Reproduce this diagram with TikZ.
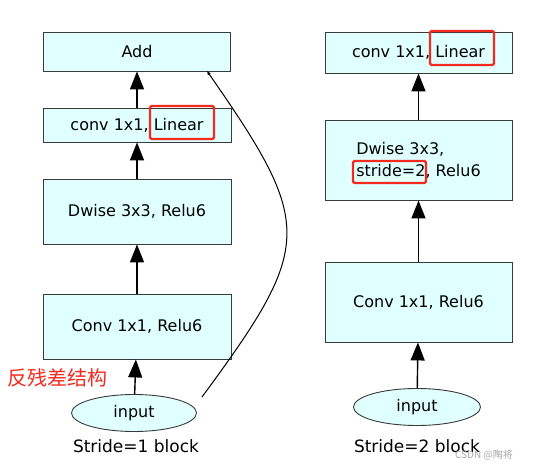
\documentclass[tikz,border=0pt]{standalone}
\usepackage{fontspec}
\setmainfont{DejaVu Sans}
\newfontfamily\cjk{Noto Sans CJK SC}
\usetikzlibrary{arrows.meta,shapes.geometric}
\definecolor{boxfill}{HTML}{E0FFFF}
\definecolor{boxline}{HTML}{3A3A3A}
\definecolor{hlred}{HTML}{F42A1E}
\begin{document}
\begin{tikzpicture}[x=1pt,y=-1pt]
        \useasboundingbox (0,0) rectangle (533,470);

        \begin{scope}[every node/.style={draw=boxline, fill=boxfill, line width=.9pt,
            inner sep=0pt, font=\fontsize{16}{22}\selectfont}]
          % stride 1 block
          \node[minimum width=187pt, minimum height=39pt] (add)  at (137,51.5)  {Add};
          \node[minimum width=188pt, minimum height=34pt] (lin1) at (137,125)   {conv 1x1, Linear};
          \node[minimum width=188pt, minimum height=65pt] (dw1)  at (137,211.5) {Dwise 3x3, Relu6};
          \node[minimum width=188pt, minimum height=65pt] (cv1)  at (137,326.5) {Conv 1x1, Relu6};
          % stride 2 block
          \node[minimum width=187pt, minimum height=41pt] (lin2) at (418.5,52.5) {conv 1x1, Linear};
          \node[minimum width=187pt, minimum height=80pt, align=left] (dw2) at (418.5,160) {Dwise 3x3,\\stride=2, Relu6};
          \node[minimum width=187pt, minimum height=80pt] (cv2)  at (418.5,302) {Conv 1x1, Relu6};
        \end{scope}

        \begin{scope}[every node/.style={ellipse, draw=boxline, fill=boxfill, line width=.9pt,
            inner sep=0pt, font=\fontsize{16}{20}\selectfont}]
          \node[minimum width=125pt, minimum height=37pt] (in1) at (134,413) {input};
          \node[minimum width=127pt, minimum height=37pt] (in2) at (417,407) {input};
        \end{scope}

        \node[font=\fontsize{17}{20}\selectfont] (cap1) at (136,446) {Stride=1 block};
        \node[font=\fontsize{17}{20}\selectfont] (cap2) at (417,446) {Stride=2 block};
        \node[text=hlred, font=\cjk\fontsize{20}{22}\selectfont] (res) at (57,378) {反残差结构};
        \node[text=black!35, font=\cjk\fontsize{10}{12}\selectfont] (wm) at (484,455) {CSDN @陶将};

        \begin{scope}[every edge/.style={draw, line width=1.4pt,
            -{Triangle[length=18pt,width=14pt]}}]
          \path (in1)  edge (cv1);
          \path (cv1)  edge (dw1);
          \path (dw1)  edge (lin1);
          \path (lin1) edge (add);
          \path (in2)  edge (cv2);
          \path (cv2)  edge (dw2);
          \path (dw2)  edge (lin2);
        \end{scope}

        % shortcut
        \coordinate (skip) at (202,397);
        \coordinate (addin) at (207,71);
        \draw[line width=1pt, -{Triangle[length=4pt,width=3pt]}]
          (skip) .. controls (314,245) and (314,225) .. (addin);

        % highlights
        \begin{scope}[hlred, line width=2.2pt, rounded corners=1.5pt]
          \draw (150,106) rectangle (214,139);
          \draw (430,31) rectangle (494,65);
          \draw (353,161) rectangle (426,183);
        \end{scope}

      \end{tikzpicture}
\end{document}
